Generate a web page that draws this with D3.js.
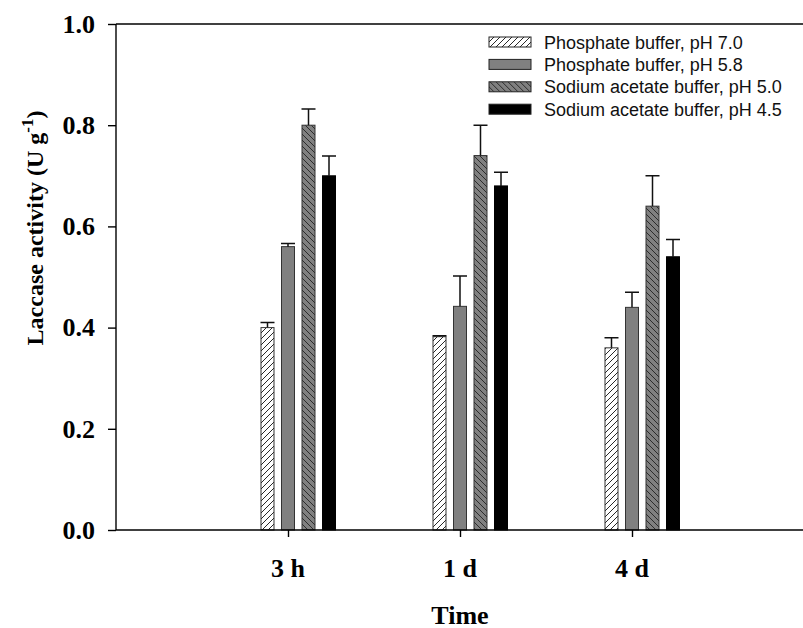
<!DOCTYPE html>
<html>
<head>
<meta charset="utf-8">
<script src="https://cdn.jsdelivr.net/npm/d3@7"></script>
<style>
body { margin: 0; background: #fff; }
svg { display: block; }
</style>
</head>
<body>
<div id="chart"></div>
<script>
var svgw = 803;
var svgh = 628;

// data
var categories = ["3 h", "1 d", "4 d"];
var seriesNames = ["Phosphate buffer, pH 7.0", "Phosphate buffer, pH 5.8",
    "Sodium acetate buffer, pH 5.0", "Sodium acetate buffer, pH 4.5"];
var ph70 = [0.40, 0.382, 0.36];
var ph70err = [0.01, 0.002, 0.02];
var ph58 = [0.56, 0.442, 0.44];
var ph58err = [0.006, 0.06, 0.03];
var sa50 = [0.80, 0.74, 0.64];
var sa50err = [0.032, 0.06, 0.06];
var sa45 = [0.70, 0.68, 0.54];
var sa45err = [0.039, 0.027, 0.034];
var yTicks = [0.0, 0.2, 0.4, 0.6, 0.8, 1.0];

var values = [ph70, ph58, sa50, sa45];
var errors = [ph70err, ph58err, sa50err, sa45err];
var fills = ["url(#hatchWhite)", "#808080", "url(#hatchGrey)", "#000"];

var svg = d3.select("#chart").append("svg")
    .attr("width", svgw)
    .attr("height", svgh);

var defs = svg.append("defs");
var p1 = defs.append("pattern")
    .attr("id", "hatchWhite")
    .attr("patternUnits", "userSpaceOnUse")
    .attr("width", 6).attr("height", 6);
p1.append("rect").attr("width", 6).attr("height", 6).attr("fill", "#fff");
p1.append("path")
    .attr("d", "M-1,7 L7,-1 M-1,1 L1,-1 M5,7 L7,5")
    .attr("stroke", "#111").attr("stroke-width", 0.9);

var p2 = defs.append("pattern")
    .attr("id", "hatchGrey")
    .attr("patternUnits", "userSpaceOnUse")
    .attr("width", 6).attr("height", 6);
p2.append("rect").attr("width", 6).attr("height", 6).attr("fill", "#808080");
p2.append("path")
    .attr("d", "M-1,-1 L7,7 M5,-1 L7,1 M-1,5 L1,7")
    .attr("stroke", "#222").attr("stroke-width", 0.9);

var plotLeft = 116, plotTop = 24, plotBottom = 530;

var x = d3.scaleLinear()
    .domain([0, 4])
    .range([plotLeft, 804]);

var y = d3.scaleLinear()
    .domain([0, 1])
    .range([plotBottom, plotTop]);

// bar offsets inside each group, the tick sits on the 2nd bar
var xs = d3.scaleBand()
    .domain(d3.range(seriesNames.length))
    .range([-27, 47.5])
    .paddingInner(0.366)
    .paddingOuter(0);

var g = svg.append("g");

values.forEach(function(series, si) {
    var grp = g.append("g");
    grp.selectAll("rect")
        .data(series)
        .join("rect")
        .attr("x", function(d, i){ return x(i + 1) + xs(si); })
        .attr("y", function(d){ return y(d); })
        .attr("width", xs.bandwidth())
        .attr("height", function(d){ return y(0) - y(d); })
        .attr("fill", fills[si])
        .attr("stroke", si == 3 ? "#000" : "#333")
        .attr("stroke-width", 1);

    // error bars, upward only
    grp.selectAll("path.err")
        .data(series)
        .join("path")
        .attr("class", "err")
        .attr("d", function(d, i){
            var cx = x(i + 1) + xs(si) + xs.bandwidth() / 2;
            var y0 = y(d), y1 = y(d + errors[si][i]);
            return "M" + cx + "," + y0 + "V" + y1 + "M" + (cx - 7) + "," + y1 + "H" + (cx + 7);
        })
        .attr("fill", "none")
        .attr("stroke", "#111")
        .attr("stroke-width", 1.5);
});

// frame: top line and bottom axis run off the right edge
svg.append("line")
    .attr("x1", plotLeft).attr("x2", svgw + 2)
    .attr("y1", plotTop).attr("y2", plotTop)
    .attr("stroke", "#000").attr("stroke-width", 1.4);
svg.append("line")
    .attr("x1", plotLeft).attr("x2", svgw + 2)
    .attr("y1", plotBottom).attr("y2", plotBottom)
    .attr("stroke", "#000").attr("stroke-width", 1.4);

var yAxis = svg.append("g")
    .attr("transform", "translate(" + plotLeft + ",0)")
    .call(d3.axisLeft(y)
        .tickValues(yTicks)
        .tickSize(8)
        .tickPadding(13)
        .tickFormat(d3.format(".1f")));
yAxis.select(".domain").attr("stroke-width", 1.4).attr("d", "M0," + plotTop + "V" + plotBottom);
yAxis.selectAll(".tick line").attr("stroke-width", 1.4);
yAxis.selectAll(".tick text")
    .attr("font-family", "'Liberation Serif', 'Times New Roman', serif")
    .attr("font-weight", "bold")
    .attr("font-size", 26)
    .attr("fill", "#000");

var xAxis = svg.append("g")
    .attr("transform", "translate(0," + plotBottom + ")")
    .call(d3.axisBottom(x)
        .tickValues([1, 2, 3])
        .tickSize(7)
        .tickFormat(""));
xAxis.select(".domain").remove();
xAxis.selectAll(".tick line").attr("stroke-width", 1.4);

svg.append("g").selectAll("text")
    .data(categories)
    .join("text")
    .attr("x", function(d, i){ return x(i + 1); })
    .attr("y", 577)
    .attr("text-anchor", "middle")
    .attr("font-family", "'Liberation Serif', 'Times New Roman', serif")
    .attr("font-weight", "bold")
    .attr("font-size", 26)
    .text(function(d){ return d; });

svg.append("text")
    .attr("x", 460)
    .attr("y", 624)
    .attr("text-anchor", "middle")
    .attr("font-family", "'Liberation Serif', 'Times New Roman', serif")
    .attr("font-weight", "bold")
    .attr("font-size", 26)
    .text("Time");

var ytitle = svg.append("text")
    .attr("transform", "translate(43,228) rotate(-90)")
    .attr("text-anchor", "middle")
    .attr("font-family", "'Liberation Serif', 'Times New Roman', serif")
    .attr("font-weight", "bold")
    .attr("font-size", 24);
ytitle.append("tspan").text("Laccase activity (U g");
ytitle.append("tspan").attr("dy", -10).attr("font-size", 17).text("-1");
ytitle.append("tspan").attr("dy", 10).text(")");

// legend
var legend = svg.append("g").selectAll("g")
    .data(seriesNames)
    .join("g")
    .attr("transform", function(d, i){ return "translate(489," + (42 + i * 22.4) + ")"; });
legend.append("rect")
    .attr("x", 0).attr("y", -5)
    .attr("width", 42).attr("height", 10)
    .attr("fill", function(d, i){ return fills[i]; })
    .attr("stroke", "#222")
    .attr("stroke-width", 1);
legend.append("text")
    .attr("x", 55)
    .attr("y", 6.5)
    .attr("font-family", "'Liberation Sans', Arial, sans-serif")
    .attr("font-size", 18)
    .attr("fill", "#111")
    .text(function(d){ return d; });
</script>
</body>
</html>
